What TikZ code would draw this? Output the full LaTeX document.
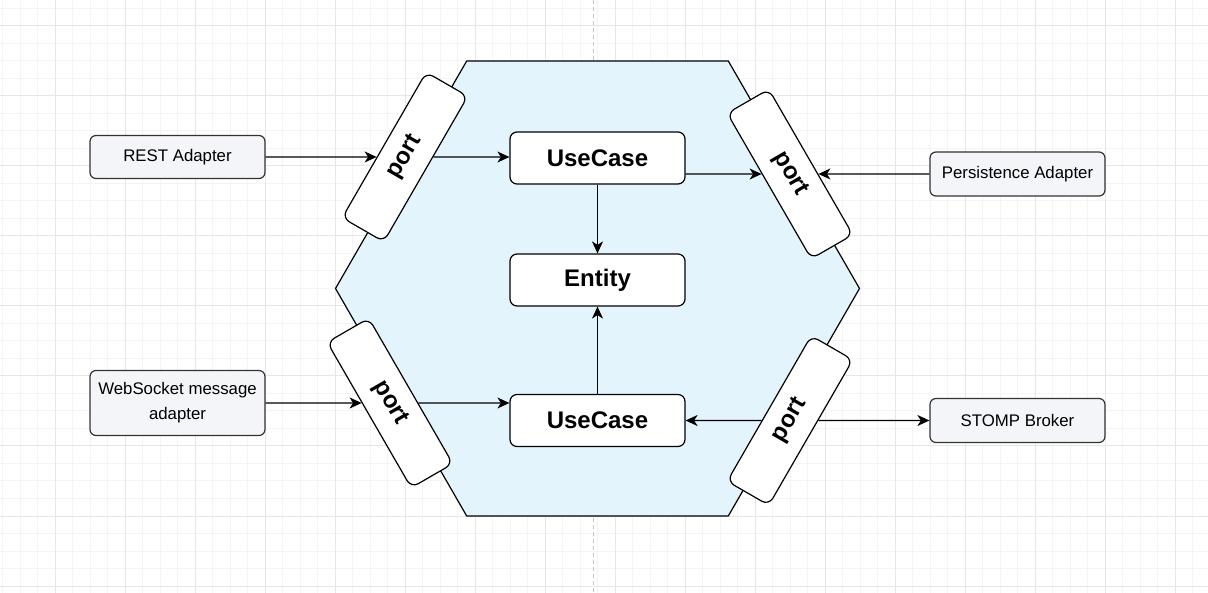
\documentclass[tikz,border=0pt]{standalone}
\usepackage{fontspec}
\setmainfont{Liberation Sans}
\usetikzlibrary{arrows.meta}
\definecolor{hexfill}{HTML}{E3F4FD}
\definecolor{adfill}{HTML}{F4F5F9}
\definecolor{adline}{HTML}{333333}
\definecolor{gridminor}{HTML}{F4F4F4}
\definecolor{gridmajor}{HTML}{E6E6E6}
\definecolor{dashcol}{HTML}{C4C4C4}
\begin{document}
\begin{tikzpicture}[x=1pt,y=-1pt,
  adapter/.style={draw=adline, fill=adfill, rounded corners=6pt, line width=1.2pt,
    minimum width=175pt, minimum height=43pt, inner sep=0pt, align=center,
    font=\fontsize{16.8}{25}\selectfont},
  core/.style={draw=black, fill=white, rounded corners=7pt, line width=1.2pt,
    minimum width=175pt, minimum height=52pt, inner sep=0pt,
    font=\fontsize{24}{28}\selectfont\bfseries},
  portbox/.style={draw=black, fill=white, rounded corners=8pt, line width=1.2pt,
    minimum width=168pt, minimum height=48pt, inner sep=0pt,
    font=\fontsize{24}{28}\selectfont\bfseries},
  arr/.style={line width=1.3pt, -{Stealth[length=12pt,width=11pt,inset=3.5pt]}}
]
\useasboundingbox (0,0) rectangle (1208,593);
\fill[white] (0,0) rectangle (1208,593);
% grid
\foreach \x in {2.5,20,...,1208} \draw[gridminor, line width=1pt] (\x,0) -- (\x,593);
\foreach \y in {8.5,26,...,593} \draw[gridminor, line width=1pt] (0,\y) -- (1208,\y);
\foreach \x in {55,125,...,1208} \draw[gridmajor, line width=1pt] (\x,0) -- (\x,593);
\foreach \y in {26,96,...,593} \draw[gridmajor, line width=1pt] (0,\y) -- (1208,\y);
\draw[dashcol, line width=1pt, dash pattern=on 4pt off 3pt] (593.3,0) -- (593.3,593);
% hexagon
\draw[line width=1.2pt, fill=hexfill] (466.7,61) -- (728.3,61) -- (859.5,288.5) -- (728.3,516) -- (466.7,516) -- (335.5,288.5) -- cycle;
% nodes
\node[adapter] (rest) at (177.5,157) {REST Adapter};
\node[adapter, minimum height=65pt] (ws) at (177.5,403) {WebSocket message\\adapter};
\node[adapter, minimum height=44pt] (pers) at (1017.5,174) {Persistence Adapter};
\node[adapter, minimum height=44pt] (stomp) at (1017.5,420.5) {STOMP Broker};
\node[core] (uc1) at (597.5,158) {UseCase};
\node[core] (ent) at (597.5,280) {Entity};
\node[core] (uc2) at (597.5,420.5) {UseCase};
\node[portbox, rotate=60] (tlp) at (405,157) {port};
\node[portbox, rotate=-60] (trp) at (790,174) {port};
\node[portbox, rotate=-60] (blp) at (390,403) {port};
\node[portbox, rotate=60] (brp) at (790,420.5) {port};
% connectors
\draw[arr] (rest) -- (tlp);
\draw[arr] (tlp) -- (uc1.west |- tlp);
\draw[arr] (uc1.east |- trp) -- (trp);
\draw[arr] (pers) -- (trp);
\draw[arr] (uc1) -- (ent);
\draw[arr] (uc2) -- (ent);
\draw[arr] (ws) -- (blp);
\draw[arr] (blp) -- (uc2.west |- blp);
\draw[arr] (brp) -- (uc2);
\draw[arr] (brp) -- (stomp);
\end{tikzpicture}
\end{document}
